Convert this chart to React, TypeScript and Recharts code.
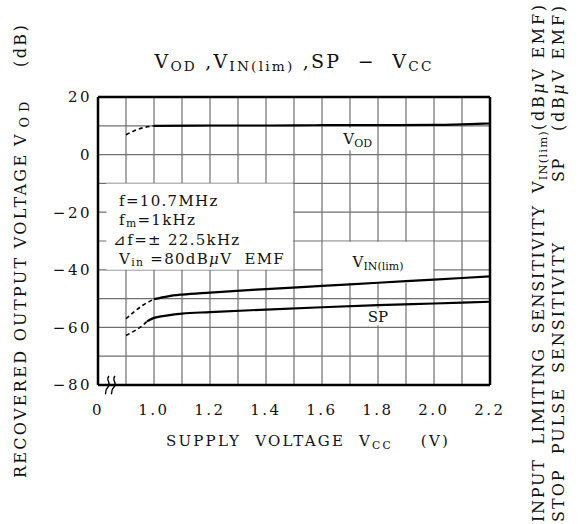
import React from "react";
import {
  LineChart,
  Line,
  XAxis,
  YAxis,
  CartesianGrid,
  ReferenceArea,
  ReferenceLine,
} from "recharts";

// supply voltage grid (V) - 0.8 is drawn as the broken "0"
const xTicks = [0.8, 0.9, 1.0, 1.1, 1.2, 1.3, 1.4, 1.5, 1.6, 1.7, 1.8, 1.9, 2.0, 2.1, 2.2];
const yTicks = [-80, -70, -60, -50, -40, -30, -20, -10, 0, 10, 20];
const rightTicks = [-20, -10, 0, 10, 20, 30, 40, 50, 60, 70, 80];

// VOD (dB)
const vodDashX = [0.9, 0.93, 0.96, 1.0];
const vodDashY = [6.9, 8.3, 9.3, 10.0];
const vodX = [1.0, 1.2, 1.4, 1.6, 1.8, 2.0, 2.1, 2.2];
const vodY = [10.0, 10.1, 10.1, 10.2, 10.2, 10.3, 10.5, 10.8];

// VIN(lim) plotted on the left scale (right scale = -left)
const vinDashX = [0.9, 0.93, 0.96, 1.0];
const vinDashY = [-57.0, -54.5, -52.3, -50.2];
const vinX = [1.0, 1.05, 1.1, 1.2, 1.4, 1.6, 1.8, 2.0, 2.2];
const vinY = [-50.2, -49.2, -48.6, -47.9, -46.7, -45.6, -44.5, -43.4, -42.3];

// SP
const spDashX = [0.9, 0.93, 0.96, 0.975];
const spDashY = [-62.8, -61.2, -59.3, -57.9];
const spX = [0.975, 1.0, 1.05, 1.1, 1.2, 1.4, 1.6, 1.8, 2.0, 2.2];
const spY = [-57.9, -56.7, -55.8, -55.2, -54.7, -53.8, -53.0, -52.3, -51.7, -51.1];

const zip = (xs: number[], ys: number[]) => xs.map((v, i) => ({ v, y: ys[i] }));

const FONT = "'DejaVu Serif', 'Liberation Serif', serif";
const GRID = "#707070";

const fmtX = (v: number) => {
  if (Math.abs(v - 0.8) < 1e-6) return "0";
  const t = Math.round(v * 10);
  return t % 2 === 0 ? v.toFixed(1) : "";
};
const fmtY = (v: number) => (v % 20 === 0 ? (v < 0 ? "\u2212" + Math.abs(v) : String(v)) : "");
const fmtR = (v: number) => (v % 20 === 0 && v >= 0 && v <= 60 ? String(v) : "");

const Sub = ({ children, size = "0.72em", gap = 0 }: { children: React.ReactNode; size?: string; gap?: number }) => (
  <span style={{ fontSize: size, position: "relative", top: "0.25em", marginLeft: gap }}>{children}</span>
);

const VText = ({ cx, bottom, size = 16, spacing = 2.7, children }: any) => (
  <div
    style={{
      position: "absolute",
      left: cx - 10,
      top: bottom,
      height: 20,
      lineHeight: "20px",
      fontSize: size,
      fontFamily: FONT,
      whiteSpace: "pre",
      letterSpacing: spacing,
      transform: "rotate(-90deg)",
      transformOrigin: "0 0",
      color: "#111",
    }}
  >
    {children}
  </div>
);

const subLabel = (main: string, sub: string, dy = 0) => (props: any) => {
  const vb = props.viewBox;
  return (
    <text
      x={vb.x + vb.width / 2}
      y={vb.y + vb.height / 2 + 5 + dy}
      textAnchor="middle"
      fontFamily={FONT}
      fontSize={15}
      fill="#111"
    >
      {main}
      {sub && (
        <tspan fontSize={11} dy={3}>
          {sub}
        </tspan>
      )}
    </text>
  );
};

export default function App() {
  return (
    <div style={{ position: "absolute", left: 0, top: 0, width: 580, height: 524, background: "#fff" }}>
      <LineChart
        width={580}
        height={524}
        margin={{ top: 97, right: 50, bottom: 109, left: 58 }}
        style={{ fontFamily: FONT }}
      >
        <CartesianGrid yAxisId="l" stroke={GRID} strokeWidth={1.2} strokeOpacity={1} />
        <XAxis
          type="number"
          dataKey="v"
          domain={[0.8, 2.2]}
          ticks={xTicks}
          tickFormatter={fmtX}
          allowDataOverflow
          tickLine={false}
          tickSize={0}
          tickMargin={19}
          height={30}
          axisLine={{ stroke: "#000", strokeWidth: 2.5 }}
          tick={{ fill: "#111", fontSize: 15, letterSpacing: 2.5, fontFamily: FONT }}
        />
        <YAxis
          yAxisId="l"
          domain={[-80, 20]}
          ticks={yTicks}
          tickFormatter={fmtY}
          interval={0}
          width={40}
          tickLine={false}
          tickSize={0}
          tickMargin={6}
          axisLine={{ stroke: "#000", strokeWidth: 2.5 }}
          tick={{ fill: "#111", fontSize: 15, letterSpacing: 2.5, fontFamily: FONT }}
        />
        <YAxis
          yAxisId="r"
          orientation="right"
          domain={[-20, 80]}
          reversed
          ticks={rightTicks}
          tickFormatter={fmtR}
          interval={0}
          width={40}
          tickLine={false}
          tickSize={0}
          tickMargin={10}
          axisLine={{ stroke: "#000", strokeWidth: 2.5 }}
          tick={{ fill: "#111", fontSize: 15, letterSpacing: 2.5, fontFamily: FONT, textAnchor: "start" }}
        />
        <ReferenceLine yAxisId="l" y={20} stroke="#000" strokeWidth={2.5} />

        {/* condition box */}
        <ReferenceArea yAxisId="l" x1={0.83} x2={1.497} y1={-40} y2={-10} fill="#fff" fillOpacity={1} stroke="none" />
        {/* label backgrounds */}
        <ReferenceArea
          yAxisId="l"
          x1={1.66}
          x2={1.795}
          y1={1.5}
          y2={9.3}
          fill="#fff"
          fillOpacity={1}
          stroke="none"
          label={subLabel("V", "OD")}
        />
        <ReferenceArea
          yAxisId="l"
          x1={1.603}
          x2={1.997}
          y1={-44.5}
          y2={-30.3}
          fill="#fff"
          fillOpacity={1}
          stroke="none"
          label={subLabel("V", "IN(lim)", 0)}
        />
        <ReferenceArea
          yAxisId="l"
          x1={1.755}
          x2={1.845}
          y1={-59.3}
          y2={-53.4}
          fill="#fff"
          fillOpacity={1}
          stroke="none"
          label={subLabel("SP", "")}
        />

        <Line yAxisId="l" data={zip(vodDashX, vodDashY)} dataKey="y" type="monotone" stroke="#000" strokeWidth={1.6} strokeDasharray="4 3" dot={false} isAnimationActive={false} />
        <Line yAxisId="l" data={zip(vodX, vodY)} dataKey="y" type="monotone" stroke="#000" strokeWidth={2.2} dot={false} isAnimationActive={false} />
        <Line yAxisId="l" data={zip(vinDashX, vinDashY)} dataKey="y" type="monotone" stroke="#000" strokeWidth={1.6} strokeDasharray="4 3" dot={false} isAnimationActive={false} />
        <Line yAxisId="l" data={zip(vinX, vinY)} dataKey="y" type="monotone" stroke="#000" strokeWidth={2.2} dot={false} isAnimationActive={false} />
        <Line yAxisId="l" data={zip(spDashX, spDashY)} dataKey="y" type="monotone" stroke="#000" strokeWidth={1.6} strokeDasharray="4 3" dot={false} isAnimationActive={false} />
        <Line yAxisId="l" data={zip(spX, spY)} dataKey="y" type="monotone" stroke="#000" strokeWidth={2.2} dot={false} isAnimationActive={false} />
      </LineChart>

      {/* title */}
      <div
        style={{
          position: "absolute",
          left: 0,
          width: 588,
          top: 50,
          textAlign: "center",
          fontFamily: FONT,
          fontSize: 19,
          letterSpacing: 2.2,
          whiteSpace: "pre",
          color: "#111",
        }}
      >
        V<Sub>OD</Sub> ,V<Sub>IN(lim)</Sub> ,SP  {"\u2212"}  V<Sub>CC</Sub>
      </div>

      {/* x title */}
      <div
        style={{
          position: "absolute",
          left: 0,
          width: 616,
          top: 432,
          textAlign: "center",
          fontFamily: FONT,
          fontSize: 15,
          letterSpacing: 2.2,
          whiteSpace: "pre",
          color: "#111",
        }}
      >
        SUPPLY  VOLTAGE  V<Sub>CC</Sub>    (V)
      </div>

      {/* condition text */}
      <div
        style={{
          position: "absolute",
          left: 113,
          top: 192,
          fontFamily: FONT,
          fontSize: 15,
          lineHeight: "18.5px",
          letterSpacing: 1.3,
          whiteSpace: "pre",
          color: "#111",
        }}
      >
        <div>{" "}f=10.7MHz</div>
        <div>{" "}f<Sub>m</Sub>=1kHz</div>
        <div>{"\u22BF"}f={"\u00B1"} 22.5kHz</div>
        <div>{" "}V<Sub>in</Sub> =80dB<i>{"\u03BC"}</i>V  EMF</div>
      </div>

      {/* axis break */}
      <svg style={{ position: "absolute", left: 104, top: 374 }} width={18} height={22}>
        <path d="M5 2 C1 6, 8 9, 4 13 S 3 19, 1 20" fill="none" stroke="#000" strokeWidth={1.4} />
        <path d="M11 2 C7 6, 14 9, 10 13 S 9 19, 7 20" fill="none" stroke="#000" strokeWidth={1.4} />
      </svg>

      {/* left axis title */}
      <VText cx={21} bottom={478} spacing={2.3}>
        RECOVERED OUTPUT VOLTAGE
      </VText>
      <VText cx={21} bottom={146} spacing={5}>
        V<Sub size="0.8em" gap={2}>OD</Sub>
      </VText>
      <VText cx={21} bottom={67} spacing={2.4}>
        (dB)
      </VText>

      {/* right axis titles */}
      <VText cx={539} bottom={522} spacing={1.75}>
        INPUT  LIMITING  SENSITIVITY
      </VText>
      <VText cx={539} bottom={193} spacing={1.2}>
        V<Sub>IN(lim)</Sub>
      </VText>
      <VText cx={539} bottom={130} spacing={2.7}>
        (dB<i>{"\u03BC"}</i>V EMF)
      </VText>
      <VText cx={559} bottom={522} spacing={2.0}>
        STOP  PULSE  SENSITIVITY
      </VText>
      <VText cx={559} bottom={182} spacing={1.5}>
        SP
      </VText>
      <VText cx={559} bottom={131} spacing={2.7}>
        (dB<i>{"\u03BC"}</i>V EMF)
      </VText>
    </div>
  );
}
